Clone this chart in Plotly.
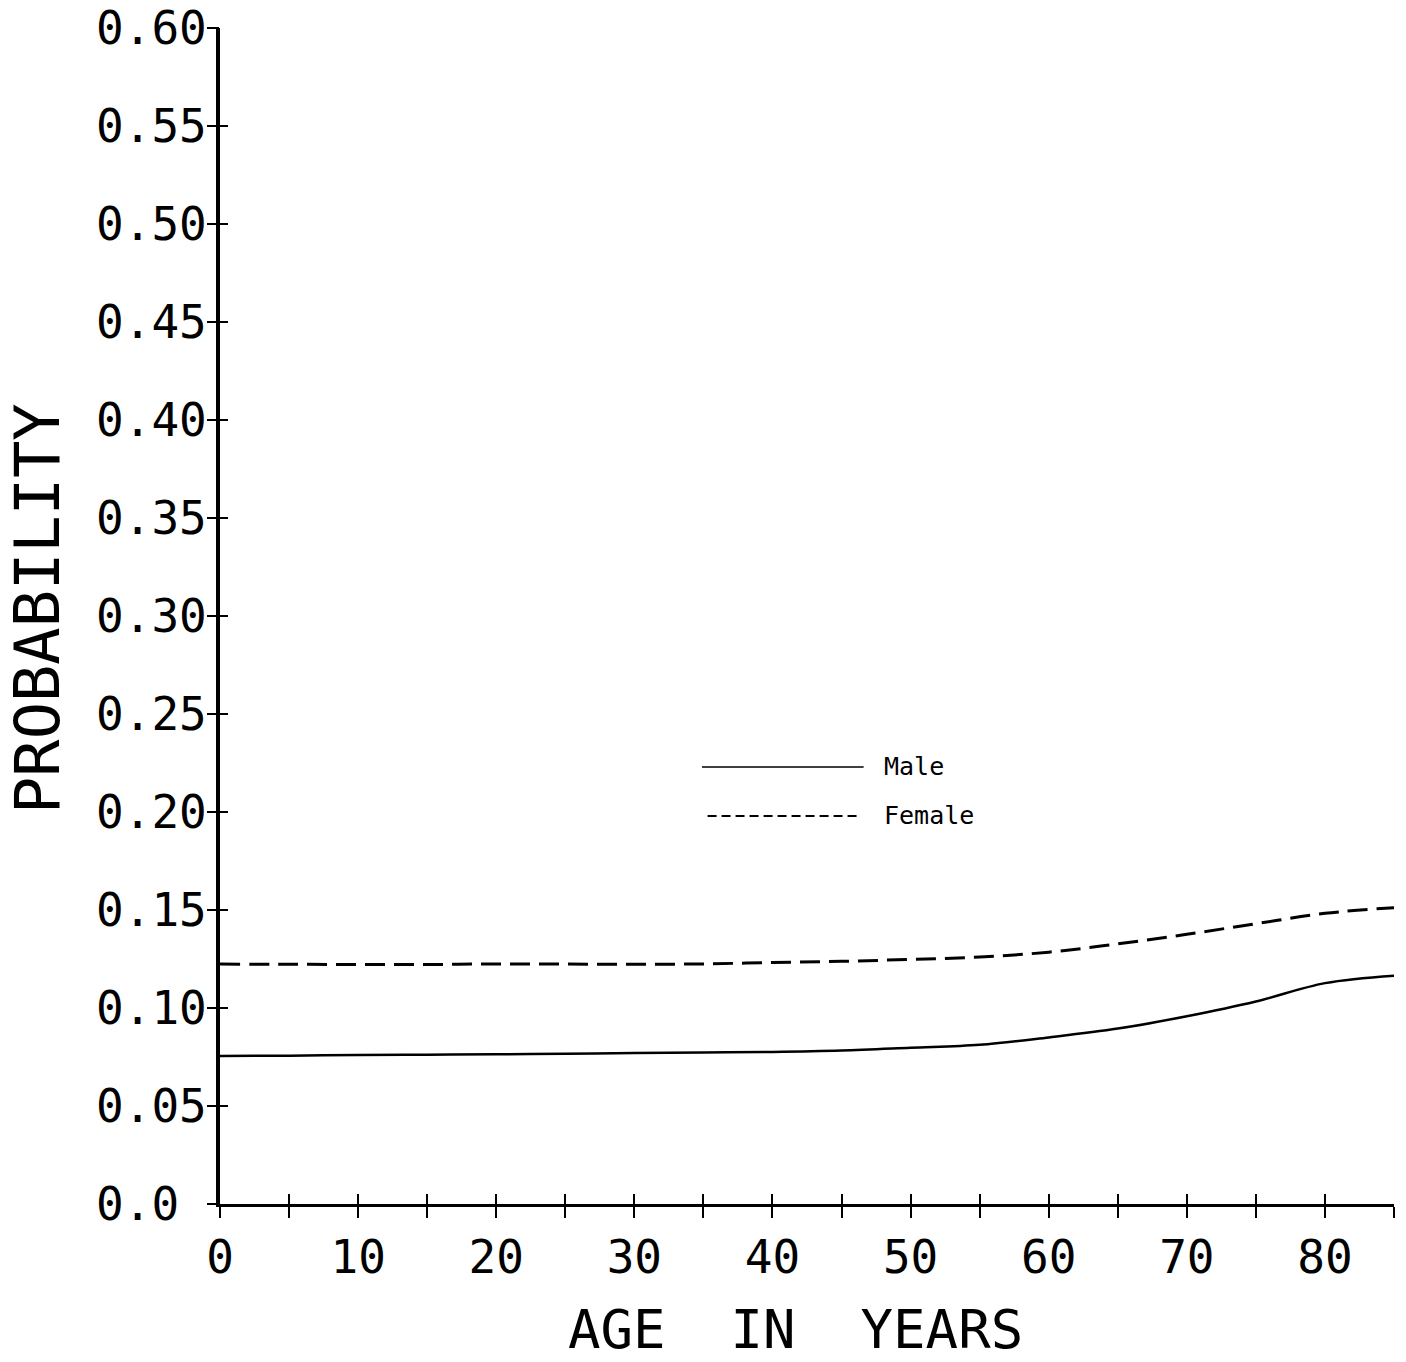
import plotly.graph_objects as go

# ---- data ----
ages = [0, 5, 10, 15, 20, 25, 30, 35, 40, 45, 50, 55, 60, 65, 70, 75, 80, 85]
male = [0.0755, 0.0757, 0.0760, 0.0762, 0.0764, 0.0767, 0.0770, 0.0773, 0.0776,
        0.0783, 0.0797, 0.0812, 0.0850, 0.0895, 0.0958, 0.1033, 0.1127, 0.1165]
female = [0.1224, 0.1223, 0.1222, 0.1222, 0.1225, 0.1224, 0.1223, 0.1225, 0.1232,
          0.1238, 0.1248, 0.1260, 0.1285, 0.1327, 0.1376, 0.1430, 0.1483, 0.1512]

x_tickvals = [0, 5, 10, 15, 20, 25, 30, 35, 40, 45, 50, 55, 60, 65, 70, 75, 80, 85]
x_ticktext = ["0", "", "10", "", "20", "", "30", "", "40", "", "50", "", "60", "",
              "70", "", "80", ""]
y_tickvals = [0.0, 0.05, 0.10, 0.15, 0.20, 0.25, 0.30, 0.35, 0.40, 0.45, 0.50, 0.55, 0.60]
y_ticktext = ["0.0\u00a0", "0.05", "0.10", "0.15", "0.20", "0.25", "0.30", "0.35",
              "0.40", "0.45", "0.50", "0.55", "0.60"]

legend_names = ["Male", "Female"]

FONT = "DejaVu Sans Mono"

fig = go.Figure()
fig.add_trace(go.Scatter(x=ages, y=male, mode="lines", name=legend_names[0],
                         line=dict(color="black", width=2.5, shape="spline"),
                         xaxis="x", yaxis="y", showlegend=False))
fig.add_trace(go.Scatter(x=ages, y=female, mode="lines", name=legend_names[1],
                         line=dict(color="black", width=3, dash="20px,9px", shape="spline"),
                         xaxis="x2", yaxis="y2", showlegend=False))

# manual legend (sample lines + labels)
fig.add_shape(type="line", xref="x", yref="y", x0=34.9, x1=46.6, y0=0.223, y1=0.223,
              line=dict(color="black", width=1.5))
fig.add_shape(type="line", xref="x", yref="y", x0=35.3, x1=46.3, y0=0.198, y1=0.198,
              line=dict(color="black", width=2, dash="9px,5px"))
fig.add_annotation(x=47.9, y=0.223, xref="x", yref="y", text=legend_names[0],
                   showarrow=False, xanchor="left", yanchor="middle",
                   font=dict(family=FONT, size=25, color="black"))
fig.add_annotation(x=47.9, y=0.198, xref="x", yref="y", text=legend_names[1],
                   showarrow=False, xanchor="left", yanchor="middle",
                   font=dict(family=FONT, size=25, color="black"))

# axis titles
fig.add_annotation(x=0.49, y=-0.1063, xref="paper", yref="paper",
                   text="AGE\u00a0\u00a0IN\u00a0\u00a0YEARS",
                   showarrow=False, xanchor="center", yanchor="middle",
                   font=dict(family=FONT, size=54, color="black"))
fig.add_annotation(x=-0.155, y=0.506, xref="paper", yref="paper", text="PROBABILITY",
                   showarrow=False, xanchor="center", yanchor="middle", textangle=-90,
                   font=dict(family=FONT, size=62, color="black"))

tickfont = dict(family=FONT, size=46, color="black")

fig.update_layout(
    width=1406, height=1362, autosize=False,
    margin=dict(l=220, r=12, t=28, b=158),
    paper_bgcolor="white", plot_bgcolor="white",
    showlegend=False,
    xaxis=dict(range=[0, 85], tickmode="array", tickvals=x_tickvals, ticktext=x_ticktext,
               ticks="outside", ticklen=11, tickwidth=2, tickcolor="black",
               showline=True, linecolor="black", linewidth=3, showgrid=False,
               zeroline=False, tickfont=tickfont, anchor="y", automargin=False),
    yaxis=dict(range=[0, 0.6], tickmode="array", tickvals=y_tickvals, ticktext=y_ticktext,
               ticks="inside", ticklen=8, tickwidth=2, tickcolor="black",
               showline=True, linecolor="black", linewidth=4, showgrid=False,
               zeroline=False, tickfont=tickfont, anchor="x", automargin=False),
    xaxis2=dict(range=[0, 85], overlaying="x", anchor="y2", side="bottom",
                tickmode="array", tickvals=x_tickvals, showticklabels=False,
                ticks="inside", ticklen=10, tickwidth=2, tickcolor="black",
                showline=False, showgrid=False, zeroline=False, automargin=False),
    yaxis2=dict(range=[0, 0.6], overlaying="y", anchor="x2", side="left",
                tickmode="array", tickvals=y_tickvals, showticklabels=False,
                ticks="outside", ticklen=12, tickwidth=2, tickcolor="black",
                showline=False, showgrid=False, zeroline=False, automargin=False),
)

fig.write_html("out.html")
